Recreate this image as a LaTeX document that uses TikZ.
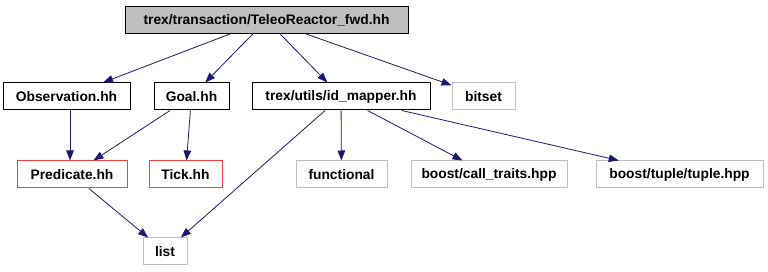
\documentclass[tikz,border=0pt]{standalone}
\usepackage{fontspec}
\setmainfont{Liberation Sans}
\usetikzlibrary{arrows.meta}
\definecolor{edgeblue}{HTML}{191970}
\definecolor{extgray}{HTML}{BFBFBF}
\definecolor{nodered}{HTML}{F04040}
\tikzset{
  x=1pt, y=-1pt,
  file/.style={draw=black, line width=1pt, inner sep=0pt, minimum height=27pt,
    font=\fontsize{13.8}{15}\selectfont\bfseries},
  current/.style={file, fill=extgray},
  external/.style={file, draw=extgray},
  missing/.style={file, draw=nodered},
  dep/.style={draw=edgeblue, line width=0.8pt, -{Triangle[length=10pt,width=7.5pt]}},
}
\begin{document}
\begin{tikzpicture}
\useasboundingbox (0,0) rectangle (768,272);
% top level header
\node[current, minimum width=283pt] (top) at (266.5,20) {trex/transaction/TeleoReactor\_fwd.hh};
% direct includes
\node[file, minimum width=127pt] (obs) at (66.5,96.5) {Observation.hh};
\node[file, minimum width=75pt] (goal) at (191.5,96.5) {Goal.hh};
\node[file, minimum width=178pt] (idm) at (341,96.5) {trex/utils/id\_mapper.hh};
\node[external, minimum width=63pt] (bitset) at (483.5,96.5) {bitset};
% second level
\node[missing, minimum width=110pt] (pred) at (72,174.5) {Predicate.hh};
\node[missing, minimum width=73pt] (tick) at (185.5,174.5) {Tick.hh};
\node[external, minimum width=91pt] (func) at (341.5,174.5) {functional};
\node[external, minimum width=156pt] (call) at (489,174.5) {boost/call\_traits.hpp};
\node[external, minimum width=167pt] (tuple) at (679.5,174.5) {boost/tuple/tuple.hpp};
% third level
\node[external, minimum width=44pt] (list) at (165,251.5) {list};
% include edges
\draw[dep] (top) -- (obs);
\draw[dep] (top) -- (goal);
\draw[dep] (top) -- (idm);
\draw[dep] (top) -- (bitset);
\draw[dep] ([xshift=3.5pt]obs.south) -- ([xshift=-2pt]pred.north);
\draw[dep] (goal) -- (pred);
\draw[dep] (goal) -- (tick);
\draw[dep] (idm) -- (list);
\draw[dep] (idm) -- (func);
\draw[dep] (idm) -- (call);
\draw[dep] (idm) -- (tuple);
\draw[dep] (pred) -- (list);
\end{tikzpicture}
\end{document}
